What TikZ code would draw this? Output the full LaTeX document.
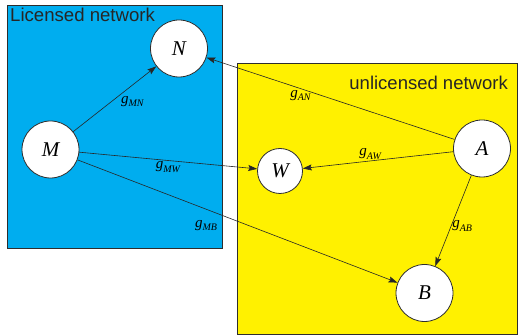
\documentclass[tikz,border=0pt]{standalone}
\usepackage{fontspec}
\setmainfont{Liberation Serif}
\newfontfamily\netfont{Liberation Sans}
\usetikzlibrary{arrows.meta}
\definecolor{licblue}{RGB}{0,173,239}
\definecolor{unlicyellow}{RGB}{255,241,0}
\definecolor{edgegray}{RGB}{45,45,45}
\newcommand{\chgain}[1]{\textit{g}\raisebox{-3.5pt}{\fontsize{10}{12}\selectfont\textit{#1}}}

\begin{document}
\begin{tikzpicture}[x=1pt,y=-1pt,
  user/.style={circle,draw=edgegray,line width=0.8pt,fill=white,minimum size=57pt,inner sep=0pt,font=\fontsize{21}{24}\selectfont\itshape},
  small user/.style={user,minimum size=45pt},
  gain/.style={inner sep=1pt,font=\fontsize{15}{18}\selectfont},
  link/.style={-{Stealth[length=9pt,width=6pt,inset=1.5pt]},line width=0.6pt,draw=black!85}]
\useasboundingbox (0,0) rectangle (520,336);
\draw[edgegray,line width=0.8pt,fill=licblue] (7,5) rectangle (222,248);
\draw[edgegray,line width=0.8pt,fill=unlicyellow] (237,63) rectangle (517,334);
\node[anchor=base west,inner sep=0pt,font=\netfont\fontsize{18.6}{22}\selectfont,text=black!85] (lic) at (10,22) {Licensed network};
\node[anchor=base east,inner sep=0pt,font=\netfont\fontsize{18.5}{22}\selectfont,text=black!85] (unlic) at (508,90) {unlicensed network};
\node[user] (N) at (179,48.5) {N};
\node[user] (M) at (50.5,149.5) {M};
\node[small user] (W) at (280,171) {W};
\node[user] (A) at (482,148.5) {A};
\node[user] (B) at (424.5,293) {B};
\draw[link] (M) -- node[gain,pos=0.56,below right] {\chgain{MN}} (N);
\draw[link] (M) -- node[gain,pos=0.5,below] {\chgain{MW}} (W);
\draw[link] (M) -- node[gain,pos=0.44,below left,yshift=-5pt] {\chgain{MB}} (B);
\draw[link] (A) -- node[gain,pos=0.62,below] {\chgain{AN}} (N);
\draw[link] (A) -- node[gain,pos=0.55,above] {\chgain{AW}} (W);
\draw[link] (A) -- node[gain,pos=0.56,right] {\chgain{AB}} (B);
\end{tikzpicture}
\end{document}
